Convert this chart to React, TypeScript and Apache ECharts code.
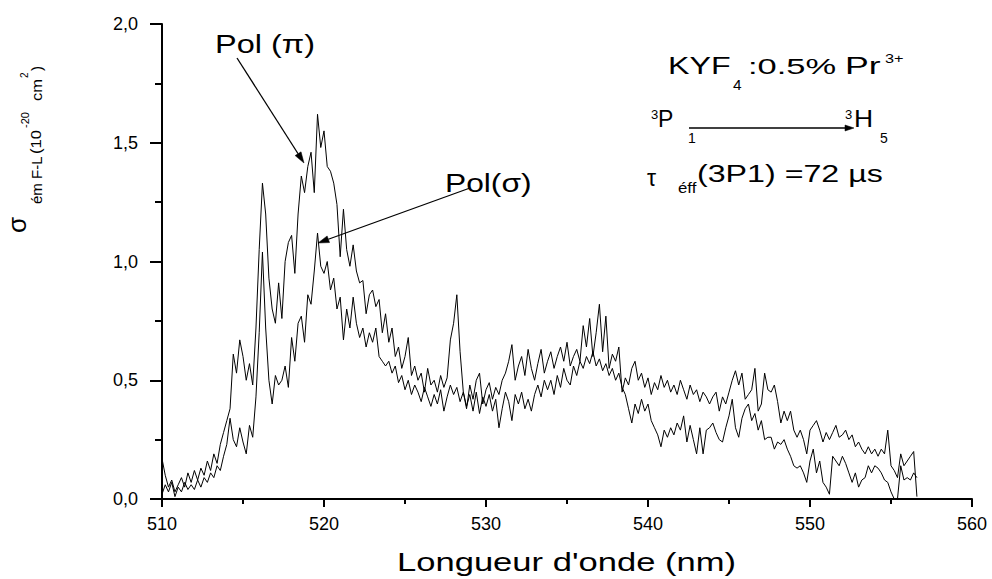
import React, { useEffect, useRef } from 'react';
import * as echarts from 'echarts';

// Wavelength sampling of the recorded spectra (nm)
const WAVE_START = 510;
const WAVE_STEP = 0.2;

// Pol (π) emission cross-section (10^-20 cm^2), 510.0 → 556.6 nm
const piValues = [
  0.17, 0.10, 0.05, 0.08, 0.03, 0.06, 0.09, 0.05, 0.11, 0.07,
  0.12, 0.08, 0.13, 0.10, 0.16, 0.12, 0.19, 0.15, 0.23, 0.28,
  0.33, 0.38, 0.61, 0.53, 0.67, 0.60, 0.50, 0.57, 0.48, 0.72,
  1.05, 1.33, 1.20, 0.93, 0.80, 0.74, 0.91, 0.76, 1.00, 1.08,
  1.11, 0.95, 1.20, 1.36, 1.29, 1.40, 1.46, 1.29, 1.62, 1.48,
  1.55, 1.40, 1.38, 1.33, 1.24, 1.02, 1.22, 1.05, 0.98, 1.07,
  0.96, 0.91, 0.92, 0.78, 0.86, 0.88, 0.81, 0.84, 0.70, 0.78,
  0.66, 0.72, 0.60, 0.64, 0.55, 0.60, 0.68, 0.52, 0.56, 0.50,
  0.53, 0.45, 0.55, 0.48, 0.50, 0.45, 0.52, 0.47, 0.51, 0.67,
  0.74, 0.86, 0.62, 0.45, 0.38, 0.48, 0.42, 0.50, 0.53, 0.40,
  0.46, 0.49, 0.42, 0.47, 0.44, 0.50, 0.53, 0.58, 0.65, 0.50,
  0.56, 0.60, 0.52, 0.63, 0.55, 0.50, 0.57, 0.63, 0.53, 0.58,
  0.62, 0.55, 0.60, 0.64, 0.58, 0.66, 0.56, 0.60, 0.63, 0.58,
  0.73, 0.64, 0.76, 0.60, 0.70, 0.82, 0.62, 0.77, 0.55, 0.61,
  0.58, 0.64, 0.45, 0.51, 0.48, 0.55, 0.58, 0.50, 0.53, 0.47,
  0.51, 0.44, 0.49, 0.46, 0.52, 0.47, 0.50, 0.45, 0.48, 0.44,
  0.50, 0.46, 0.42, 0.48, 0.44, 0.46, 0.41, 0.45, 0.43, 0.40,
  0.43, 0.45, 0.37, 0.43, 0.40, 0.45, 0.50, 0.54, 0.48, 0.53,
  0.42, 0.44, 0.46, 0.55, 0.37, 0.40, 0.53, 0.46, 0.45, 0.48,
  0.41, 0.32, 0.37, 0.33, 0.37, 0.29, 0.26, 0.29, 0.25, 0.19,
  0.29, 0.31, 0.33, 0.29, 0.24, 0.28, 0.25, 0.28, 0.31, 0.26,
  0.27, 0.29, 0.25, 0.27, 0.22, 0.24, 0.21, 0.19, 0.22, 0.19,
  0.21, 0.18, 0.21, 0.19, 0.29, 0.14, 0.12, 0.09, 0.19, 0.14,
  0.16, 0.18, 0.20, 0.01,
];

// Pol (σ) emission cross-section (10^-20 cm^2), 510.0 → 556.6 nm
const sigmaValues = [
  0.02, 0.06, 0.03, 0.07, 0.01, 0.05, 0.03, 0.07, 0.04, 0.06,
  0.04, 0.08, 0.05, 0.09, 0.07, 0.11, 0.09, 0.14, 0.12, 0.18,
  0.23, 0.34, 0.25, 0.22, 0.30, 0.24, 0.19, 0.31, 0.26, 0.43,
  0.70, 1.04, 0.72, 0.50, 0.40, 0.52, 0.48, 0.50, 0.56, 0.47,
  0.68, 0.58, 0.74, 0.77, 0.66, 0.86, 0.82, 0.96, 1.12, 0.98,
  0.95, 1.00, 0.88, 0.93, 0.80, 0.85, 0.67, 0.80, 0.72, 0.85,
  0.74, 0.68, 0.72, 0.64, 0.70, 0.66, 0.72, 0.60, 0.58, 0.56,
  0.58, 0.53, 0.56, 0.49, 0.52, 0.46, 0.50, 0.44, 0.48, 0.45,
  0.41, 0.47, 0.43, 0.39, 0.44, 0.40, 0.46, 0.37, 0.43, 0.48,
  0.44, 0.47, 0.41, 0.45, 0.39, 0.44, 0.37, 0.45, 0.36, 0.43,
  0.39, 0.44, 0.37, 0.42, 0.30, 0.38, 0.45, 0.41, 0.33, 0.44,
  0.40, 0.45, 0.38, 0.42, 0.37, 0.44, 0.48, 0.43, 0.50, 0.46,
  0.50, 0.44, 0.52, 0.47, 0.55, 0.50, 0.48, 0.56, 0.52, 0.58,
  0.55, 0.60, 0.57, 0.62, 0.56, 0.59, 0.54, 0.57, 0.52, 0.55,
  0.50, 0.53, 0.47, 0.44, 0.38, 0.32, 0.40, 0.36, 0.42, 0.37,
  0.40, 0.33, 0.30, 0.27, 0.22, 0.29, 0.26, 0.30, 0.27, 0.32,
  0.29, 0.35, 0.24, 0.31, 0.25, 0.19, 0.30, 0.19, 0.29, 0.30,
  0.32, 0.28, 0.25, 0.24, 0.30, 0.35, 0.42, 0.30, 0.26, 0.34,
  0.38, 0.40, 0.33, 0.36, 0.29, 0.33, 0.25, 0.26, 0.26, 0.21,
  0.24, 0.23, 0.25, 0.21, 0.18, 0.14, 0.13, 0.14, 0.11, 0.07,
  0.16, 0.21, 0.11, 0.16, 0.07, 0.05, 0.02, 0.18, 0.16, 0.14,
  0.18, 0.15, 0.11, 0.07, 0.11, 0.05, 0.08, 0.09, 0.14, 0.11,
  0.14, 0.13, 0.11, 0.08, 0.07, 0.03, 0.00, 0.00, 0.14, 0.08,
  0.09, 0.08, 0.11, 0.09,
];

const X_MIN = 510;
const X_MAX = 560;
const X_INTERVAL = 10;
const yTickValues = [0, 0.5, 1.0, 1.5, 2.0];
const yTickLabels = ['0,0', '0,5', '1,0', '1,5', '2,0'];

const FONT = 'Liberation Sans, Arial, Helvetica, sans-serif';

function toPairs(vals: number[]) {
  return vals.map((v, i) => [Number((WAVE_START + i * WAVE_STEP).toFixed(1)), v]);
}

function txt(text: string, x: number, y: number, size: number, sx = 1, rot = 0): any {
  return {
    type: 'text',
    x,
    y,
    scaleX: sx,
    rotation: rot,
    silent: true,
    style: {
      text,
      x: 0,
      y: 0,
      fill: '#000',
      font: `${size}px ${FONT}`,
      align: 'left',
      verticalAlign: 'middle',
      textAlign: 'left',
      textVerticalAlign: 'middle',
    },
  };
}

function arrow(x1: number, y1: number, x2: number, y2: number, L = 11, W = 3.5): any[] {
  const a = Math.atan2(y2 - y1, x2 - x1);
  const c = Math.cos(a);
  const s = Math.sin(a);
  const bx = x2 - L * c;
  const by = y2 - L * s;
  return [
    {
      type: 'polyline',
      silent: true,
      shape: { points: [[x1, y1], [bx, by]] },
      style: { stroke: '#000', lineWidth: 1.3, fill: null },
    },
    {
      type: 'polygon',
      silent: true,
      shape: {
        points: [
          [x2, y2],
          [bx + W * s, by - W * c],
          [bx - W * s, by + W * c],
        ],
      },
      style: { fill: '#000', stroke: '#000', lineWidth: 0.5 },
    },
  ];
}

export default function App() {
  const ref = useRef<HTMLDivElement>(null);

  useEffect(() => {
    if (!ref.current) return;
    const chart = echarts.init(ref.current, undefined, { renderer: 'svg' });
    const rot = Math.PI / 2;

    const graphics: any[] = [
      // y-axis title (rotated)
      txt('σ', 17, 233, 26, 1, rot),
      txt('ém F-L', 36, 204, 15, 1, rot),
      txt('(10', 36, 154, 15, 1.1, rot),
      txt('-20', 25, 128, 10, 1.1, rot),
      txt('cm', 37, 101, 15, 1.1, rot),
      txt('2', 24, 78, 10, 1, rot),
      txt(')', 36, 71, 15, 1, rot),
      // x-axis title
      txt("Longueur d'onde (nm)", 397, 562, 26, 1.33),
      // annotations
      txt('Pol (π)', 215, 44, 25, 1.3),
      txt('Pol(σ)', 445, 183, 25, 1.27),
      ...arrow(237, 58, 304, 163),
      ...arrow(470, 188, 318, 243),
      // sample information
      txt('KYF', 668, 66, 23, 1.4),
      txt('4', 733, 85, 14, 1.1),
      txt(':0.5%', 748, 66, 23, 1.5),
      txt('Pr', 845, 66, 23, 1.55),
      txt('3+', 885, 59, 13, 1.25),
      txt('3', 651, 114, 13),
      txt('P', 658, 119, 23),
      txt('1', 688, 138, 14),
      ...arrow(689, 128, 854, 128, 9, 3),
      txt('3', 845, 114, 13),
      txt('H', 854, 119, 23, 1.15),
      txt('5', 880, 138, 14),
      txt('τ', 647, 178, 23),
      txt('éff', 678, 188, 14, 1.2),
      txt('(3P1) =72 µs', 697, 174, 23, 1.4),
    ];

    chart.setOption({
      animation: false,
      grid: { left: 162, right: 20, top: 24, bottom: 80 },
      xAxis: {
        type: 'value',
        min: X_MIN,
        max: X_MAX,
        interval: X_INTERVAL,
        z: 5,
        axisLine: { show: true, onZero: false, lineStyle: { color: '#000', width: 2 } },
        axisTick: { show: true, length: 8, lineStyle: { color: '#000', width: 2 } },
        minorTick: { show: true, splitNumber: 2, length: 5, lineStyle: { color: '#000', width: 2 } },
        splitLine: { show: false },
        axisLabel: { color: '#000', fontSize: 18, fontFamily: FONT, margin: 16 },
      },
      yAxis: {
        type: 'value',
        min: 0,
        max: 2,
        interval: 0.5,
        z: 5,
        axisLine: { show: true, lineStyle: { color: '#000', width: 2 } },
        axisTick: { show: true, length: 12, lineStyle: { color: '#000', width: 2 } },
        minorTick: { show: true, splitNumber: 2, length: 7, lineStyle: { color: '#000', width: 2 } },
        splitLine: { show: false },
        axisLabel: {
          color: '#000',
          fontSize: 18,
          fontFamily: FONT,
          margin: 24,
          formatter: (v: number) => {
            const i = yTickValues.findIndex((t) => Math.abs(t - v) < 1e-9);
            return i >= 0 ? yTickLabels[i] : String(v).replace('.', ',');
          },
        },
      },
      series: [
        {
          name: 'Pol (π)',
          type: 'line',
          data: toPairs(piValues),
          symbol: 'none',
          lineStyle: { color: '#000', width: 1 },
        },
        {
          name: 'Pol (σ)',
          type: 'line',
          data: toPairs(sigmaValues),
          symbol: 'none',
          lineStyle: { color: '#000', width: 1 },
        },
      ],
      graphic: { elements: graphics },
    });

    return () => chart.dispose();
  }, []);

  return <div ref={ref} style={{ position: 'absolute', left: 0, top: 0, width: 992, height: 579 }} />;
}
